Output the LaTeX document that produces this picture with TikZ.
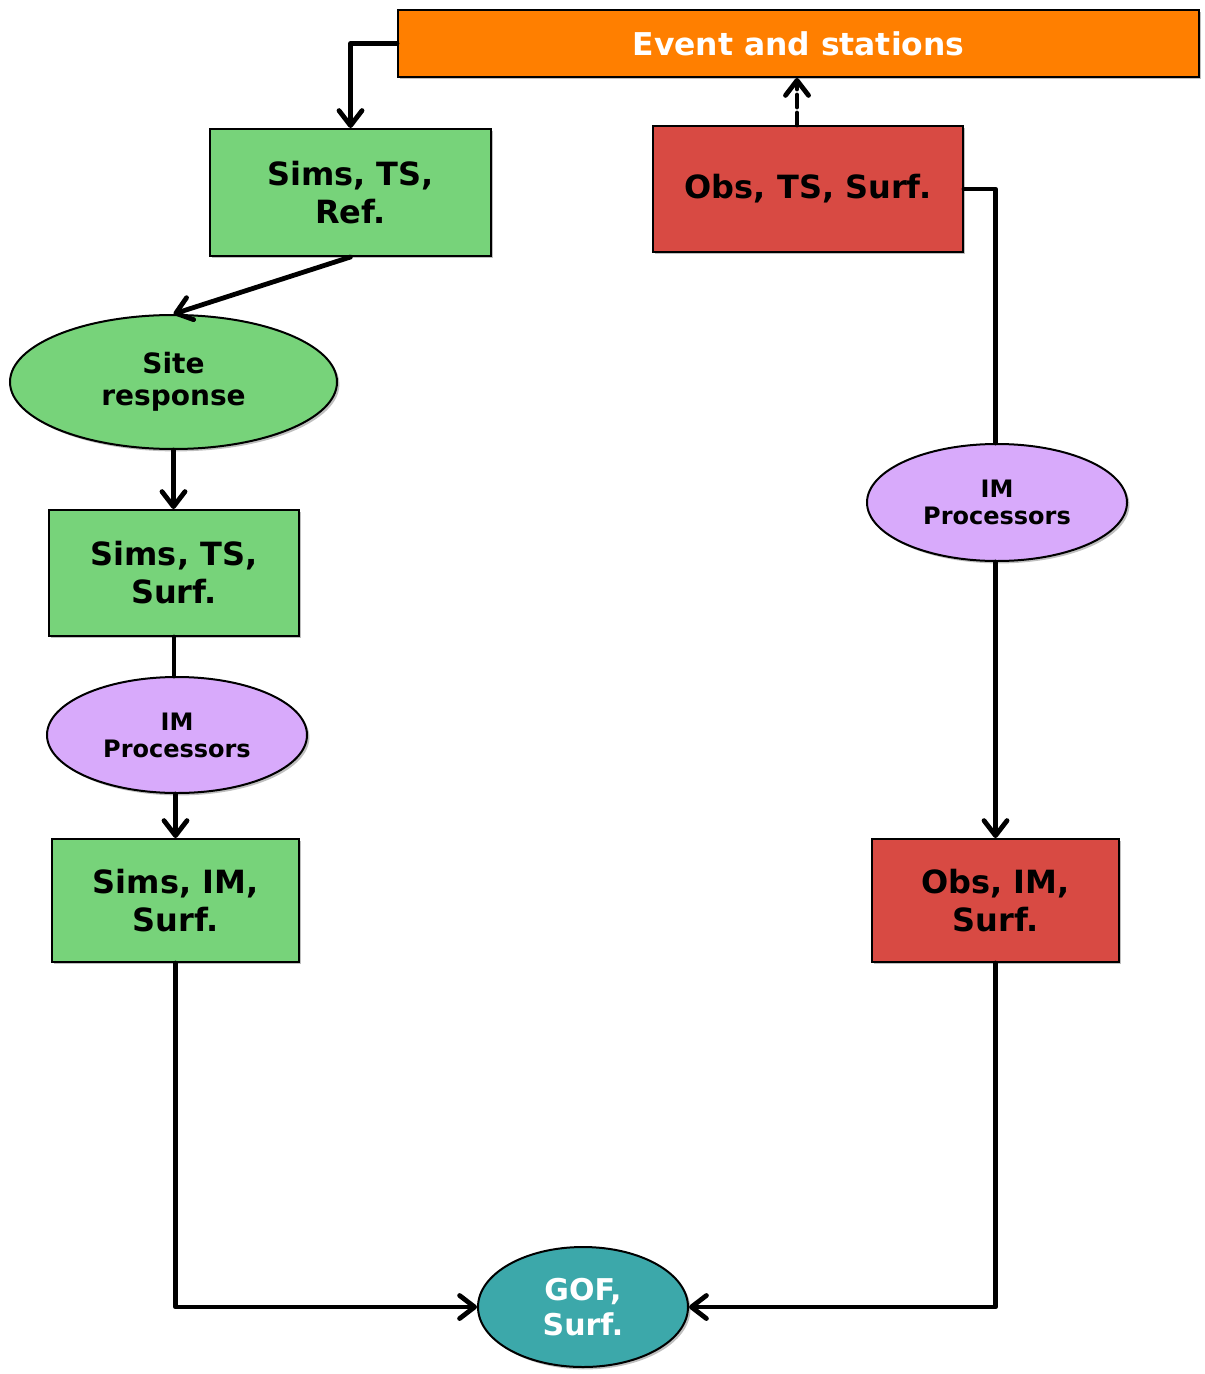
\documentclass[tikz,border=0pt]{standalone}
\usepackage{fontspec}
\setmainfont{DejaVu Sans}
\usetikzlibrary{arrows.meta,shapes.geometric,shadows}
\definecolor{evorange}{HTML}{FF7F00}
\definecolor{simgreen}{HTML}{77D37A}
\definecolor{obsred}{HTML}{D84A43}
\definecolor{impurple}{HTML}{D8AAFB}
\definecolor{gofteal}{HTML}{3CA8AA}
\tikzset{
  shd/.style={drop shadow={shadow xshift=1.2pt,shadow yshift=-1.2pt,opacity=0.25,fill=black}},
  boxnode/.style={draw=black,line width=1pt,rectangle,align=center,inner sep=0pt,shd,
    font=\fontsize{16}{19}\selectfont\bfseries},
  ellnode/.style={draw=black,line width=1pt,ellipse,align=center,inner sep=0pt,shd},
  conn/.style={line width=2.4pt,line cap=round,line join=round},
  arr/.style={conn,-{Straight Barb[length=7.5pt,width=11.5pt,line cap=round,line join=round]}},
}
\begin{document}
\begin{tikzpicture}[x=0.5pt,y=-0.5pt]
\useasboundingbox (0,0) rectangle (1204,1374);
\node[boxnode,fill=evorange,text=white,minimum width=400.5pt,minimum height=33.5pt,
  font=\fontsize{15.7}{19}\selectfont\bfseries] (ev) at (798.5,43.5) {Event and stations};
\node[boxnode,fill=simgreen,minimum width=140.5pt,minimum height=63.5pt] (str) at (350.5,192.5) {Sims, TS,\\Ref.};
\node[boxnode,fill=obsred,minimum width=155pt,minimum height=63pt] (ots) at (808,189) {Obs, TS, Surf.};
\node[ellnode,fill=simgreen,minimum width=163.5pt,minimum height=67pt,
  font=\fontsize{14}{16}\selectfont\bfseries] (sr) at (173.5,382) {Site\\response};
\node[boxnode,fill=simgreen,minimum width=125pt,minimum height=63pt] (sts) at (174,573) {Sims, TS,\\Surf.};
\node[ellnode,fill=impurple,minimum width=130pt,minimum height=58pt,
  font=\fontsize{12}{13.5}\selectfont\bfseries] (iml) at (177,735) {IM\\Processors};
\node[boxnode,fill=simgreen,minimum width=123.5pt,minimum height=61.5pt] (sis) at (175.5,900.5) {Sims, IM,\\Surf.};
\node[ellnode,fill=impurple,minimum width=130pt,minimum height=58.5pt,
  font=\fontsize{12}{13.5}\selectfont\bfseries] (imr) at (997,502.5) {IM\\Processors};
\node[boxnode,fill=obsred,minimum width=123.5pt,minimum height=61.5pt] (ois) at (995.5,900.5) {Obs, IM,\\Surf.};
\node[ellnode,fill=gofteal,text=white,minimum width=105pt,minimum height=60pt,
  font=\fontsize{15}{17.5}\selectfont\bfseries] (gof) at (583,1307) {GOF,\\Surf.};
% connectors
\draw[arr] (ev.west) -| (str.north);
\draw[arr,dash pattern=on 6pt off 3pt] ([xshift=-5.5pt]ots.north) -- ([xshift=-5.5pt]ots.north |- ev.south);
\draw[arr] (str.south) -- (sr.north);
\draw[arr] (sr.south) -- (sr.south |- sts.north);
\draw[conn] (sts.south) -- (sts.south |- iml.north);
\draw[arr] (sis.north |- iml.south) -- (sis.north);
\draw[conn] (ots.east) -| (ois.north |- imr.north);
\draw[arr] (ois.north |- imr.south) -- (ois.north);
\draw[arr] (sis.south) |- (gof.west);
\draw[arr] (ois.south) |- (gof.east);
\end{tikzpicture}
\end{document}
